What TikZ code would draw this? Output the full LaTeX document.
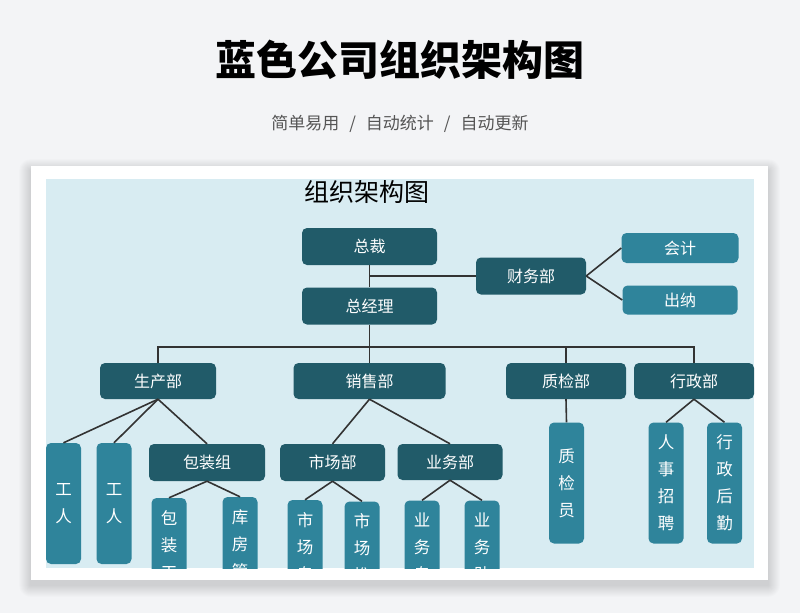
\documentclass[tikz,border=0pt]{standalone}
\usepackage{fontspec}
\setmainfont{Noto Sans CJK SC}
\usepackage{tikz}
\definecolor{pagebg}{HTML}{F3F4F6}
\definecolor{chartbg}{HTML}{D8ECF2}
\definecolor{boxdark}{HTML}{215B69}
\definecolor{boxlight}{HTML}{2F849B}
\definecolor{subgray}{HTML}{555555}
\definecolor{linegray}{HTML}{333333}

\begin{document}
\begin{tikzpicture}[x=1pt,y=-1pt,
        darkbox/.style={fill=boxdark, rounded corners=5pt, text=white, inner sep=0pt, font=\fontsize{16}{16}\selectfont},
        lightbox/.style={fill=boxlight, rounded corners=5pt, text=white, inner sep=0pt, font=\fontsize{16}{16}\selectfont},
        colbox/.style={lightbox, minimum width=35pt, minimum height=121pt, align=center, font=\fontsize{16.5}{27}\selectfont},
        link/.style={draw=linegray, line width=1.6pt}]
        \useasboundingbox (0,0) rectangle (800,613);
        \fill[pagebg] (0,0) rectangle (800,613);
        \foreach \s in {1,...,12}
            \fill[black, opacity=0.012, rounded corners=\s pt] (31-\s,166-\s+5) rectangle (768+\s,580+\s+5);
        \fill[white] (31,166) rectangle (768,580);
        \node (title) at (400,60) {\fontsize{41}{41}\selectfont\bfseries 蓝色公司组织架构图};
        \node[text=subgray] (subtitle) at (400,124) {\fontsize{17}{17}\selectfont 简单易用\hspace{10pt}/\hspace{10pt}自动统计\hspace{10pt}/\hspace{10pt}自动更新};
        \begin{scope}
        \clip (46,179) rectangle (754,568);
        \fill[chartbg] (46,179) rectangle (754,568);
        \node (charttitle) at (367,192) {\fontsize{25}{25}\selectfont 组织架构图};
        \node[darkbox, minimum width=135pt, minimum height=37pt] (zc) at (369.5,246.5) {总裁};
        \node[darkbox, minimum width=135pt, minimum height=37pt] (zjl) at (369.5,306) {总经理};
        \node[darkbox, minimum width=110pt, minimum height=37pt] (cwb) at (531,276) {财务部};
        \node[lightbox, minimum width=117pt, minimum height=30pt] (kj) at (680,248) {会计};
        \node[lightbox, minimum width=115pt, minimum height=29pt] (cn) at (680,300) {出纳};
        \node[darkbox, minimum width=116pt, minimum height=36pt] (scb) at (158,381) {生产部};
        \node[darkbox, minimum width=152pt, minimum height=36pt] (xsb) at (369.5,381) {销售部};
        \node[darkbox, minimum width=120pt, minimum height=36pt] (zjb) at (566,381) {质检部};
        \node[darkbox, minimum width=120pt, minimum height=36pt] (xzb) at (694,381) {行政部};
        \node[colbox] (gr1) at (63.5,503.5) {工\\人};
        \node[colbox] (gr2) at (114,503.5) {工\\人};
        \node[darkbox, minimum width=116pt, minimum height=37pt] (bzz) at (207,462.5) {包装组};
        \node[darkbox, minimum width=105pt, minimum height=37pt] (scbu) at (332.5,462.5) {市场部};
        \node[darkbox, minimum width=105pt, minimum height=36pt] (ywb) at (450,462) {业务部};
        \node[colbox] (zjy) at (566.5,483) {质\\检\\员};
        \node[colbox] (rszp) at (666,483) {人\\事\\招\\聘};
        \node[colbox] (xzhq) at (724.5,483) {行\\政\\后\\勤};
        \node[colbox] (bzgr) at (169,558.5) {包\\装\\工\\人};
        \node[colbox] (kfgl) at (240,557.5) {库\\房\\管\\理};
        \node[colbox] (sczy) at (305,560.5) {市\\场\\专\\员};
        \node[colbox] (sctg) at (362,562) {市\\场\\推\\广};
        \node[colbox] (ywzy) at (422,561) {业\\务\\专\\员};
        \node[colbox] (ywzl) at (482,561) {业\\务\\助\\理};
        \coordinate (fork) at (zc.south |- cwb.west);
        \coordinate (bus) at (369.5,347);
        \draw[link] (zc) -- (zjl);
        \draw[link] (fork) -- (cwb.west);
        \draw[link] (cwb.east) -- (kj.west);
        \draw[link] (cwb.east) -- (cn.west);
        \draw[link] (zjl) -- (xsb);
        \draw[link] (scb.north) |- (bus) -| (xzb.north);
        \draw[link] (zjb.north) -- (zjb.north |- bus);
        \foreach \t in {gr1,gr2,bzz}
            \draw[link] (scb.south) -- (\t.north);
        \foreach \t in {scbu,ywb}
            \draw[link] (xsb.south) -- (\t.north);
        \draw[link] (zjb.south) -- (zjy.north);
        \foreach \t in {rszp,xzhq}
            \draw[link] (xzb.south) -- (\t.north);
        \foreach \t in {bzgr,kfgl}
            \draw[link] (bzz.south) -- (\t.north);
        \foreach \t in {sczy,sctg}
            \draw[link] (scbu.south) -- (\t.north);
        \foreach \t in {ywzy,ywzl}
            \draw[link] (ywb.south) -- (\t.north);
        \end{scope}
    \end{tikzpicture}
\end{document}
